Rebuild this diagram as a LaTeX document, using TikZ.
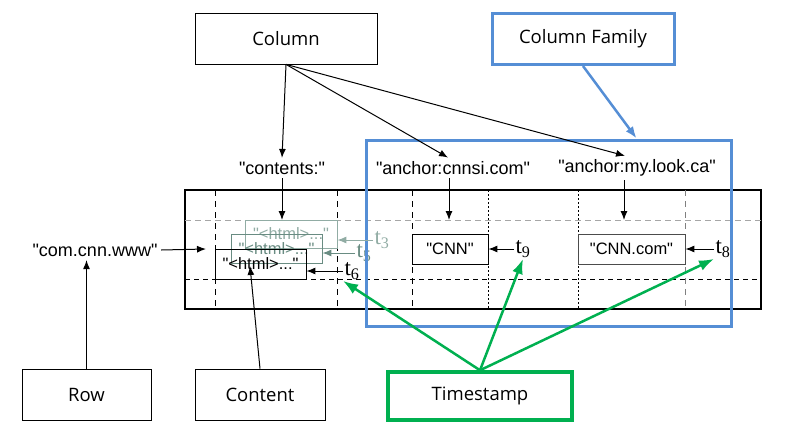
\documentclass[tikz,border=0pt]{standalone}
\usepackage{fontspec}
\setmainfont{Liberation Sans}[Ligatures=TeXOff]
\newfontfamily\boxfont{Open Sans}
\newfontfamily\tsfont{Liberation Serif}
\usetikzlibrary{arrows.meta}

\definecolor{cfblue}{RGB}{85,142,213}
\definecolor{tsgreen}{RGB}{0,176,80}
\definecolor{oldver}{RGB}{105,140,130}
\definecolor{oldest}{RGB}{145,172,164}

\begin{document}
\begin{tikzpicture}[x=1pt, y=-1pt, line width=1pt, >={Latex[length=9pt, width=7pt]},
    namebox/.style={draw, line width=0.8pt, minimum width=182pt, minimum height=51pt,
        font=\boxfont\fontsize{18.5}{22}\selectfont},
    key/.style={font=\fontsize{18}{21}\selectfont},
    cell/.style={draw, line width=0.8pt, minimum height=30pt, inner sep=0pt,
        font=\fontsize{16.5}{19}\selectfont},
    ts/.style={font=\tsfont\fontsize{23}{25}\selectfont, inner sep=1pt},
    vline/.style={line width=0.8pt, dash pattern=on 6pt off 5pt},
    dline/.style={line width=0.8pt, dash pattern=on 2pt off 2pt},
    green arrow/.style={-{Latex[length=15pt, width=11pt]}, tsgreen, line width=2.5pt}]

    \useasboundingbox (0, 0) rectangle (790, 431);

    % Declare the labels on top
    \node[namebox] at (286, 38.5) (col) {Column};
    \node[namebox, draw=cfblue, line width=3pt] at (583, 39) (cfam) {Column Family};

    % Declare the column keys
    \node[key] at (282, 168) (qual1) {"contents:"};
    \node[key] at (453, 168) (qual2) {"anchor:cnnsi.com"};
    \node[key] at (637, 168) (qual3) {"anchor:my.look.ca"};

    % Declare the row key
    \node[key] at (95, 250) (rowkey) {"com.cnn.www"};

    % Declare the table
    \node[draw, line width=2pt, minimum width=576pt, minimum height=119pt] at (473, 249.5) (tbl) {};
    \draw[gray!70, line width=0.8pt, dash pattern=on 6pt off 4pt] (185, 220) -- (761, 220);
    \draw[line width=0.8pt, dash pattern=on 5pt off 4pt] (185, 279) -- (761, 279);
    \draw[vline] (215, 190) -- (215, 309);
    \draw[vline] (337, 190) -- (337, 309);
    \draw[vline] (412, 190) -- (412, 309);
    \draw[dline] (488, 190) -- (488, 309);
    \draw[dline] (578, 190) -- (578, 309);
    \draw[vline, gray] (685, 190) -- (685, 309);
    \coordinate (ftop) at (0, 220);

    % Declare the cells
    \node[cell, draw=oldest, text=oldest, minimum width=92pt, minimum height=28pt] at (291, 234) (v3) {"<html>..."};
    \node[cell, draw=oldver, text=oldver, minimum width=91pt, minimum height=29pt] at (276.5, 248.5) (v5) {"<html>..."};
    \node[cell, minimum width=91pt] at (260.5, 264) (v6) {"<html>..."};
    \node[cell, minimum width=76pt] at (450, 249) (cnn) {"CNN"};
    \node[cell, draw=black!70, minimum width=107pt] at (631.5, 249) (cnncom) {"CNN.com"};

    % Declare the timestamps
    \node[ts, text=oldest] at (382, 240) (t3) {t\textsubscript{3}};
    \node[ts, text=oldver] at (364, 253) (t5) {t\textsubscript{5}};
    \node[ts] at (352, 271) (t6) {t\textsubscript{6}};
    \node[ts] at (523, 249) (t9) {t\textsubscript{9}};
    \node[ts] at (723, 249) (t8) {t\textsubscript{8}};

    % Declare the column family frame
    \node[draw=cfblue, line width=3pt, minimum width=365pt, minimum height=186pt] at (548.5, 233) (cfbox) {};

    % Declare the labels at the bottom
    \node[namebox, minimum width=129pt] at (86.5, 394.5) (row) {Row};
    \node[namebox, minimum width=130pt] at (260, 394.5) (content) {Content};
    \node[namebox, draw=tsgreen, line width=3.5pt, minimum width=184pt, minimum height=48pt] at (480, 396) (stamp) {Timestamp};
    \coordinate (rowtip) at (206, 249);
    \coordinate (conttip) at (250, 266);

    % Declare edges
    \draw[->] (col.south) -- (qual1.north);
    \draw[->] (col.south) -- ([xshift=-5pt]qual2.north);
    \draw[->] (col.south) -- ([xshift=-12pt]qual3.north);
    \draw[->] (qual1.south) -- (qual1.south |- ftop);
    \draw[->] ([xshift=-4pt]qual2.south) -- ([xshift=-4pt]qual2.south |- ftop);
    \draw[->] ([xshift=-13pt]qual3.south) -- ([xshift=-13pt]qual3.south |- ftop);
    \draw[->] (rowkey.east) -- (rowtip);
    \draw[->, oldest] (t3.west) -- (t3.west -| v3.east);
    \draw[->, oldver] (t5.west) -- (t5.west -| v5.east);
    \draw[->] (t6.west) -- (t6.west -| v6.east);
    \draw[->] (t9.west) -- (cnn.east);
    \draw[->] (t8.west) -- (cnncom.east);
    \draw[->] (row.north) -- (row.north |- rowkey.south);
    \draw[->] (content.north) -- (conttip);
    \draw[-{Latex[length=12pt, width=9pt]}, cfblue, line width=2.5pt] (cfam.south) -- (cfbox.47);

    % Declare timestamp edges
    \draw[green arrow] (stamp.north) -- (t6.south west);
    \draw[green arrow] (stamp.north) -- (t9.south);
    \draw[green arrow] (stamp.north) -- (t8.south west);

\end{tikzpicture}
\end{document}
